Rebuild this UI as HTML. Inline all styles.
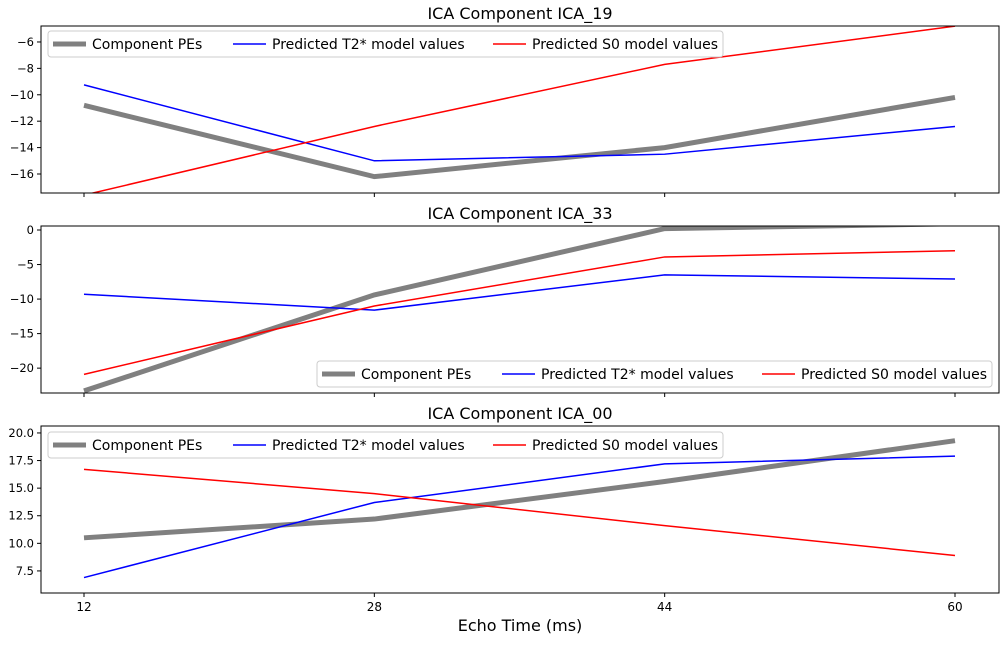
<!DOCTYPE html>
<html><head><meta charset="utf-8"><style>
body{margin:0;background:#fff;font-family:"Liberation Sans","DejaVu Sans",sans-serif}
svg text{font-family:"DejaVu Sans","Liberation Sans",sans-serif}
</style></head><body>
<svg id="c" width="1006" height="640"></svg>
<script>
const echoTimes=[12,28,44,60];
const titles=["ICA Component ICA_19","ICA Component ICA_33","ICA Component ICA_00"];
const pe19=[-10.8,-16.2,-14.0,-10.2];
const t2_19=[-9.25,-15.0,-14.5,-12.4];
const s0_19=[-17.6,-12.4,-7.7,-4.8];
const pe33=[-23.3,-9.4,0.2,0.9];
const t2_33=[-9.3,-11.6,-6.5,-7.1];
const s0_33=[-20.9,-11.0,-3.9,-3.0];
const pe00=[10.5,12.2,15.6,19.3];
const t2_00=[6.9,13.7,17.2,17.9];
const s0_00=[16.7,14.5,11.6,8.9];
const yTicks19=[-16,-14,-12,-10,-8,-6];
const yTicks33=[-20,-15,-10,-5,0];
const yTicks00=[7.5,10.0,12.5,15.0,17.5,20.0];
const yRange19=[-17.44,-4.79];
const yRange33=[-23.6,0.58];
const yRange00=[5.5,20.63];
const xTickLabels=["12","28","44","60"];

const svg=document.getElementById('c');const NS="http://www.w3.org/2000/svg";
function mk(t,a,p){const e=document.createElementNS(NS,t);for(const k in a)e.setAttribute(k,a[k]);(p||svg).appendChild(e);return e;}
const L=41,R=999;
const xs=v=>84+(v-12)*(955-84)/48;
const panels=[
 {top:26,bot:193,pe:pe19,t2:t2_19,s0:s0_19,ticks:yTicks19,r:yRange19,fmt:v=>String(v).replace('-','−'),leg:{x:48,y:31},title:titles[0]},
 {top:226,bot:393,pe:pe33,t2:t2_33,s0:s0_33,ticks:yTicks33,r:yRange33,fmt:v=>String(v).replace('-','−'),leg:{x:317,y:361},title:titles[1]},
 {top:426,bot:593,pe:pe00,t2:t2_00,s0:s0_00,ticks:yTicks00,r:yRange00,fmt:v=>v.toFixed(1),leg:{x:48,y:432},title:titles[2]}
];
panels.forEach((p,i)=>{
 const g=mk('g',{});
 
 
 const ys=v=>p.bot-(v-p.r[0])*(p.bot-p.top)/(p.r[1]-p.r[0]);
 const cid='clip'+i;const cp=mk('clipPath',{id:cid},g);mk('rect',{x:L,y:p.top,width:R-L,height:p.bot-p.top},cp);
 const t=mk('text',{x:520,y:p.top-7,'text-anchor':'middle','font-size':16},g);t.textContent=p.title;
 
 p.ticks.forEach(v=>{const y=ys(v);mk('line',{x1:L-4,x2:L,y1:y,y2:y,stroke:'#000'},g);
  const tt=mk('text',{x:L-7,y:y+4,'text-anchor':'end','font-size':11.5},g);tt.textContent=p.fmt(v);
  });
 echoTimes.forEach((v,j)=>{mk('line',{x1:xs(v),x2:xs(v),y1:p.bot,y2:p.bot+4,stroke:'#000'},g);
  if(i==2){const tt=mk('text',{x:xs(v),y:p.bot+18,'text-anchor':'middle','font-size':12},g);tt.textContent=xTickLabels[j];
  }});
 const series=[[p.pe,'#808080',5,'component-pes-line'],[p.t2,'#0000ff',1.5,'t2-model-line'],[p.s0,'#ff0000',1.5,'s0-model-line']];
 series.forEach(s=>{const pl=mk('polyline',{points:echoTimes.map((v,j)=>xs(v)+','+ys(s[0][j])).join(' '),fill:'none',stroke:s[1],'stroke-width':s[2],'clip-path':'url(#'+cid+')'},g);
  });
 mk('rect',{x:L,y:p.top,width:R-L,height:p.bot-p.top,fill:'none',stroke:'#000','stroke-width':1},g);
 const lg=mk('g',{},g);
 mk('rect',{x:p.leg.x,y:p.leg.y,width:675,height:26,rx:3,fill:'#fff','fill-opacity':0.8,stroke:'#ccc'},lg);
 const items=[['Component PEs','#808080',5,0],['Predicted T2* model values','#0000ff',1.5,180],['Predicted S0 model values','#ff0000',1.5,440]];
 items.forEach(it=>{const x=p.leg.x+5+it[3],y=p.leg.y+13;mk('line',{x1:x,x2:x+33,y1:y,y2:y,stroke:it[1],'stroke-width':it[2]},lg);
  const tt=mk('text',{x:x+39,y:y+5,'font-size':14},lg);tt.textContent=it[0];
  });
});
const xl=mk('text',{x:520,y:631,'text-anchor':'middle','font-size':16});xl.textContent='Echo Time (ms)';

</script></body></html>
